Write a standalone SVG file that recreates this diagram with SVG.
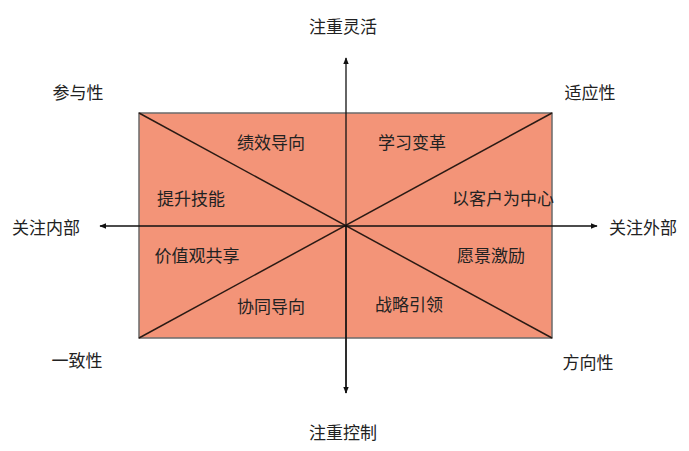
<svg xmlns="http://www.w3.org/2000/svg" width="689" height="451" viewBox="0 0 689 451">
<defs>
<marker id="ah" viewBox="0 0 10 10" refX="9" refY="5" markerWidth="7" markerHeight="7" orient="auto-start-reverse" markerUnits="userSpaceOnUse">
<path d="M0,1 L10,5 L0,9 z" fill="#111"/>
</marker>
<style>
text{font-family:"Noto Sans CJK SC","Noto Sans",sans-serif;font-size:17px;fill:#222;text-anchor:middle;dominant-baseline:central}
.ax{stroke:#111;stroke-width:1.3;fill:none}
.dg{stroke:#2a1a14;stroke-width:1.5;fill:none}
</style>
</defs>
<rect width="689" height="451" fill="#fff"/>
<g id="box">
<rect x="139" y="113" width="413" height="225" fill="#F39478" stroke="#6b6b6b" stroke-width="1.5"/>
</g>
<g id="connectors">
<line class="dg" x1="139" y1="113" x2="552" y2="338"/>
<line class="dg" x1="552" y1="113" x2="139" y2="338"/>
<line class="ax" x1="346" y1="393" x2="346" y2="58" marker-end="url(#ah)"/>
<line class="ax" x1="346" y1="226" x2="346" y2="393" marker-end="url(#ah)"/>
<line class="ax" x1="346" y1="226" x2="100" y2="226" marker-end="url(#ah)"/>
<line class="ax" x1="346" y1="226" x2="597" y2="226" marker-end="url(#ah)"/>
</g>
<g id="axis-labels">
<text x="343" y="25">注重灵活</text>
<text x="343" y="431">注重控制</text>
<text x="46" y="226">关注内部</text>
<text x="643" y="226">关注外部</text>
</g>
<g id="corner-labels">
<text x="78" y="91">参与性</text>
<text x="590" y="91">适应性</text>
<text x="77" y="359">一致性</text>
<text x="588" y="361">方向性</text>
</g>
<g id="n1"><text x="271" y="141">绩效导向</text></g>
<g id="n2"><text x="412" y="141">学习变革</text></g>
<g id="n3"><text x="191" y="197">提升技能</text></g>
<g id="n4"><text x="503" y="197">以客户为中心</text></g>
<g id="n5"><text x="197" y="254">价值观共享</text></g>
<g id="n6"><text x="491" y="254">愿景激励</text></g>
<g id="n7"><text x="271" y="305">协同导向</text></g>
<g id="n8"><text x="409" y="303">战略引领</text></g>
</svg>
